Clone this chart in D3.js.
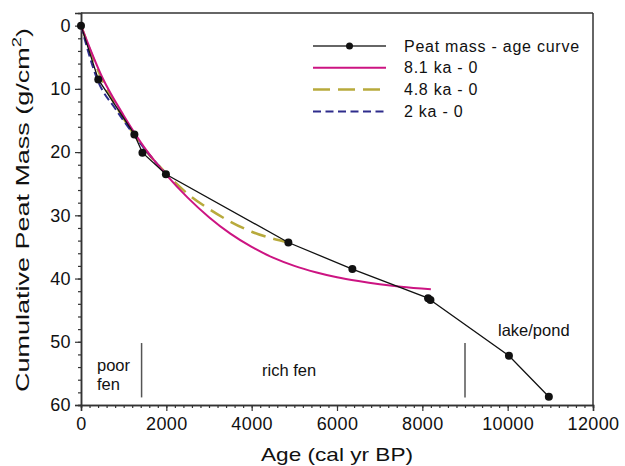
<!DOCTYPE html>
<html><head><meta charset="utf-8">
<script src="https://cdn.jsdelivr.net/npm/d3@7"></script>
<style>
body{margin:0;background:#fff;}
text{font-family:Arial,"Liberation Sans",Helvetica,sans-serif;fill:#111;}
</style></head>
<body><svg id="c" width="625" height="466"></svg>
<script>
// Peat mass - age curve (measured points)
const peatAge  = [0, 405, 1251, 1440, 1990, 4860, 6360, 8135, 8190, 10030, 10965];
const peatMass = [0, 8.5, 17.2, 20.1, 23.5, 34.3, 38.5, 43.1, 43.4, 52.2, 58.7];
// 8.1 ka - 0 fitted curve
const fit81Age  = [0, 500, 1000, 1500, 2000, 2500, 3000, 3500, 4000, 4500, 5000, 5500, 6000, 6500, 7000, 7500, 8200];
const fit81Mass = [0, 8.2, 14.2, 19.4, 23.6, 27.2, 30.3, 32.9, 35.0, 36.7, 38.0, 39.0, 39.8, 40.4, 40.9, 41.3, 41.7];
// 4.8 ka - 0 fitted curve
const fit48Age  = [0, 500, 1000, 1500, 2000, 2500, 3000, 3500, 4000, 4500, 4860];
const fit48Mass = [0, 8.6, 14.7, 19.6, 23.4, 26.6, 29.0, 31.0, 32.6, 33.7, 34.3];
// 2 ka - 0 fitted curve
const fit2Age  = [0, 400, 800, 1200, 1600, 2000];
const fit2Mass = [0, 8.8, 13.1, 16.9, 20.4, 23.5];
// axis ticks
const xTicks = [0, 2000, 4000, 6000, 8000, 10000, 12000];
const yTicks = [0, 10, 20, 30, 40, 50, 60];
// legend labels
const legendLabels = ["Peat mass - age curve", "8.1 ka - 0", "4.8 ka - 0", "2 ka - 0"];
// vegetation zone annotations
const zoneBounds = [1420, 9000];

const svg = d3.select("#c");
const L = 81, R = 593, T = 13, B = 405;
const x = d3.scaleLinear().domain([0, 12000]).range([L, R]);
const y = d3.scaleLinear().domain([-2, 60]).range([T, B]);

const zip = (a, b) => a.map((v, i) => [v, b[i]]);
const line = d3.line().x(d => x(d[0])).y(d => y(d[1]));
const smooth = d3.line().x(d => x(d[0])).y(d => y(d[1])).curve(d3.curveMonotoneX);

const axisColor = "#333";
// frame
svg.append("line").attr("x1", L).attr("x2", R).attr("y1", T).attr("y2", T).attr("stroke", axisColor).attr("stroke-width", 1.5);
svg.append("line").attr("x1", R).attr("x2", R).attr("y1", T).attr("y2", B).attr("stroke", axisColor).attr("stroke-width", 1.5);

// x axis
const xAxis = svg.append("g").attr("transform", `translate(0,${B})`);
xAxis.call(d3.axisBottom(x).tickValues(d3.range(0, 12001, 200)).tickSize(3).tickFormat(""));
xAxis.append("g").call(d3.axisBottom(x).tickValues(xTicks).tickSize(6).tickPadding(6).tickFormat(d3.format("d")));
xAxis.selectAll("path.domain").attr("stroke", axisColor).attr("stroke-width", 1.5);
xAxis.selectAll("line").attr("stroke", axisColor).attr("stroke-width", 1.2);
xAxis.selectAll("text").attr("font-size", 18).style("letter-spacing", "0.4px").attr("fill", "#111");

// y axis
const yAxis = svg.append("g").attr("transform", `translate(${L},0)`);
yAxis.call(d3.axisLeft(y).tickValues(d3.range(0, 61, 2)).tickSize(3).tickFormat(""));
yAxis.append("g").call(d3.axisLeft(y).tickValues(yTicks).tickSize(6).tickPadding(4).tickFormat(d3.format("d")));
yAxis.selectAll("path.domain").attr("stroke", axisColor).attr("stroke-width", 1.5);
yAxis.selectAll("line").attr("stroke", axisColor).attr("stroke-width", 1.2);
yAxis.selectAll("text").attr("font-size", 18).style("letter-spacing", "0.4px").attr("fill", "#111");

// axis titles
svg.append("text").attr("x", 337).attr("y", 461).attr("text-anchor", "middle")
  .attr("font-size", 19).attr("textLength", 152).attr("lengthAdjust", "spacingAndGlyphs").text("Age (cal yr BP)");
const yt = svg.append("text").attr("transform", "translate(29,210) rotate(-90)").attr("text-anchor", "middle")
  .attr("font-size", 19).attr("textLength", 364).attr("lengthAdjust", "spacingAndGlyphs");
yt.append("tspan").text("Cumulative Peat Mass (g/cm");
yt.append("tspan").attr("font-size", 13).attr("dy", -8).text("2");
yt.append("tspan").attr("dy", 8).text(")");

// zone boundaries
zoneBounds.forEach(a => {
  svg.append("line").attr("x1", x(a)).attr("x2", x(a)).attr("y1", y(50.2)).attr("y2", y(58.8))
    .attr("stroke", "#555").attr("stroke-width", 1.5);
});
const ann = [["poor", 97, 371], ["fen", 97, 390], ["rich fen", 262, 376], ["lake/pond", 498, 336]];
svg.selectAll("text.ann").data(ann).enter().append("text").attr("class", "ann")
  .attr("x", d => d[1]).attr("y", d => d[2]).attr("font-size", 16.5).text(d => d[0]);

// fitted curves
const pink = "#cc1482", gold = "#b8aa3c", blue = "#2e2c8c";
svg.append("path").datum(zip(fit48Age, fit48Mass)).attr("d", smooth).attr("fill", "none")
  .attr("stroke", gold).attr("stroke-width", 2.5).attr("stroke-dasharray", "15,8");
svg.append("path").datum(zip(fit2Age, fit2Mass)).attr("d", smooth).attr("fill", "none")
  .attr("stroke", blue).attr("stroke-width", 2).attr("stroke-dasharray", "8,4");
svg.append("path").datum(zip(fit81Age, fit81Mass)).attr("d", smooth).attr("fill", "none")
  .attr("stroke", pink).attr("stroke-width", 2);

// peat mass - age curve
svg.append("path").datum(zip(peatAge, peatMass)).attr("d", line).attr("fill", "none")
  .attr("stroke", "#111").attr("stroke-width", 1.3);
svg.selectAll("circle.pt").data(zip(peatAge, peatMass)).enter().append("circle").attr("class", "pt")
  .attr("cx", d => x(d[0])).attr("cy", d => y(d[1])).attr("r", 4).attr("fill", "#111");

// legend
const lg = svg.append("g");
const styles = [
  {stroke: "#333", w: 1.5, dash: null, marker: true},
  {stroke: pink, w: 2, dash: null},
  {stroke: gold, w: 2.5, dash: "17,8"},
  {stroke: blue, w: 2, dash: "8,4.5"}
];
legendLabels.forEach((lab, i) => {
  const cy = 46 + i * 21.8;
  const s = styles[i];
  const ln = lg.append("line").attr("x1", 313).attr("x2", 386).attr("y1", cy).attr("y2", cy)
    .attr("stroke", s.stroke).attr("stroke-width", s.w);
  if (s.dash) ln.attr("stroke-dasharray", s.dash);
  if (s.marker) lg.append("circle").attr("cx", 349.5).attr("cy", cy).attr("r", 3.5).attr("fill", "#111");
  lg.append("text").attr("x", 404).attr("y", cy + 5.5).attr("font-size", 16).style("letter-spacing", "0.75px").text(lab);
});
</script></body></html>
